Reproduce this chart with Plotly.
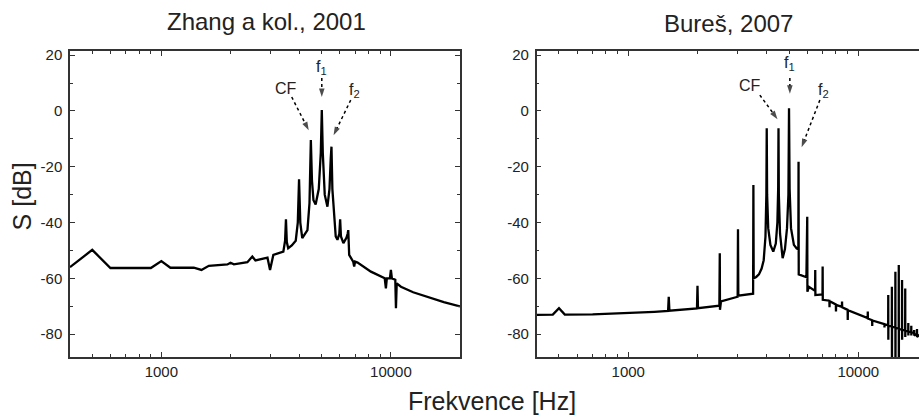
import numpy as np
import plotly.graph_objects as go

# ---------------- data ----------------
zhang_freq = [400, 500, 600, 900, 1000, 1095, 1385, 1495, 1610, 1940, 2000, 2070, 2370, 2490, 2570,
              2900, 2975, 3075, 3400, 3460, 3490, 3520, 3570, 3700, 3850, 3930, 3980, 4030, 4110,
              4330, 4420, 4480, 4530, 4600, 4700, 4850, 4950, 5000, 5050, 5150, 5290, 5400, 5470,
              5510, 5560, 5650, 5750, 5850, 5960, 6010, 6060, 6210, 6400, 6480, 6520, 6580, 6850,
              6920, 6980, 7160, 8185, 9400, 9510, 9600, 9900, 10000, 10100, 10450, 10520, 10600,
              11060, 12500, 14960, 17000, 20000]
zhang_db = [-56.0, -49.8, -56.3, -56.3, -53.8, -56.2, -56.2, -57.0, -55.5, -55.0, -54.4, -55.0, -54.2, -52.2, -53.6,
            -52.6, -57.0, -51.6, -50.4, -46.5, -38.8, -47.0, -49.2, -48.2, -46.5, -40.0, -24.5, -40.0, -45.6,
            -42.7, -33.0, -10.4, -25.0, -32.0, -33.5, -28.0, -15.0, 0.3, -15.0, -30.0, -34.3, -28.0, -17.0,
            -12.8, -28.0, -37.9, -45.0, -46.2, -44.0, -38.8, -45.0, -47.4, -45.5, -44.0, -42.7, -51.6, -54.0,
            -55.8, -54.0, -54.3, -57.6, -60.0, -63.6, -60.0, -60.0, -57.0, -60.0, -60.5, -70.7, -61.8,
            -63.0, -65.0, -67.1, -68.5, -70.1]

bures_freq = [400, 470, 500, 530, 700, 1000, 1300, 1490, 1500, 1510, 1990, 2000, 2010, 2490, 2500, 2505,
              2530, 2990, 3000, 3010, 3490, 3500, 3510, 3600, 3700, 3800, 3880, 3950, 3985, 4000,
              4015, 4060, 4150, 4270, 4380, 4450, 4485, 4500, 4515, 4570, 4690, 4800, 4900, 4970,
              5000, 5030, 5100, 5250, 5400, 5490, 5500, 5510, 5950, 6000, 6010, 6100, 6490, 6500,
              6510, 6990, 7000, 7010, 7490, 7500, 7510, 7990, 8000, 8010, 8490, 8500, 8510, 8990,
              9000, 9010, 10990, 11000, 11010, 11490, 11500, 11510, 12990, 13000, 13010, 13490,
              13500, 13510, 13520, 13990, 14000, 14010, 14020, 14490, 14500, 14510, 14520, 14990,
              15000, 15010, 15020, 15490, 15500, 15510, 15520, 15990, 16000, 16010, 16020, 16490,
              16500, 16510, 16520, 16990, 17000, 17010, 17020, 17490, 17500, 17510, 17990, 18000,
              18010, 18500, 19000]
bures_db = [-73.1, -73.0, -70.7, -73.0, -72.9, -72.5, -72.0, -71.7, -66.6, -71.6, -70.8, -62.7, -70.7, -69.8, -51.0, -71.3,
            -68.3, -66.6, -42.4, -66.2, -65.5, -26.5, -60.0, -59.5, -58.6, -56.5, -53.5, -45.0, -30.0, -6.2,
            -30.0, -42.0, -48.0, -50.4, -47.5, -40.0, -28.0, -6.2, -30.0, -44.0, -52.8, -49.5, -42.0, -30.0,
            1.0, -28.0, -42.0, -48.0, -49.3, -49.5, -18.2, -58.6, -59.6, -37.9, -64.8, -63.0, -64.5, -57.0,
            -66.0, -65.8, -55.8, -67.7, -68.0, -70.4, -68.2, -69.4, -71.9, -69.5, -70.2, -68.3, -70.4, -71.3,
            -74.9, -71.4, -74.2, -71.9, -74.4, -75.0, -77.1, -75.1, -76.4, -77.6, -76.5, -76.8,
            -66.0, -82.0, -77.0, -77.2, -63.0, -95.0, -77.4, -77.6, -57.6, -95.0, -77.8, -78.0,
            -55.2, -95.0, -78.2, -78.4, -60.6, -82.0, -78.5, -78.6, -63.6, -81.0, -78.8, -79.0,
            -76.0, -80.5, -79.1, -79.2, -77.0, -80.5, -79.4, -79.5, -78.5, -80.5, -79.8, -78.2,
            -81.0, -80.2, -80.5]

panel_titles = ["Zhang a kol., 2001", "Bureš, 2007"]
x_title = "Frekvence [Hz]"
y_title = "S [dB]"
x_major = [1000, 10000]
x_major_text = ["1000", "10000"]
x_minor = [400, 500, 600, 700, 800, 900, 2000, 3000, 4000, 5000, 6000, 7000, 8000, 9000, 20000]
y_major = [-80, -60, -40, -20, 0, 20]
y_major_text = ["-80", "-60", "-40", "-20", "0", "20"]

SUB1 = "f<sub><span style='color:#222222'>1</span></sub>"
SUB2 = "f<sub><span style='color:#222222'>2</span></sub>"
# arrow annotations: (label, label_f, label_db, tail_f, tail_db, tip_f, tip_db)
arrows_left = [("CF", 3480, 7.9, 3698, 5.0, 4446, -7.9),
               (SUB1, 5000, 15.6, 5000, 11.8, 5000, 3.9),
               (SUB2, 6928, 7.2, 6683, 3.9, 5553, -9.7)]
arrows_right = [("CF", 3380, 9.3, 3733, 5.7, 4535, -3.8),
                (SUB1, 5042, 17.0, 5042, 11.8, 5042, 5.1),
                (SUB2, 7043, 7.5, 6808, 3.9, 5610, -14.0)]

# ---------------- figure ----------------
FONT = "Liberation Sans, Arial, sans-serif"
AX = "#333333"

fig = go.Figure()
fig.add_trace(go.Scatter(x=zhang_freq, y=zhang_db, mode="lines", line=dict(color="black", width=2.3),
                         xaxis="x", yaxis="y", showlegend=False, hoverinfo="skip"))
fig.add_trace(go.Scatter(x=bures_freq, y=bures_db, mode="lines", line=dict(color="black", width=2.3),
                         xaxis="x2", yaxis="y2", showlegend=False, hoverinfo="skip"))

def xax(domain, rng, anchor):
    return dict(type="log", domain=domain, range=rng, anchor=anchor, showgrid=False, zeroline=False,
                showline=True, linecolor=AX, linewidth=1.5, mirror="ticks",
                ticks="inside", ticklen=5, tickwidth=1.2, tickcolor=AX,
                tickmode="array", tickvals=x_major, ticktext=x_major_text,
                tickfont=dict(size=15, color="#222", family=FONT),
                minor=dict(tickmode="array", tickvals=x_minor, ticks="inside", ticklen=3,
                           tickwidth=1, tickcolor=AX, showgrid=False))

def yax(anchor, mirror):
    return dict(range=[-88.2, 21.5], anchor=anchor, showgrid=False, zeroline=False,
                showline=True, linecolor=AX, linewidth=1.5, mirror=mirror,
                ticks="inside", ticklen=5, tickwidth=1.2, tickcolor=AX,
                tickmode="array", tickvals=y_major, ticktext=y_major_text, ticklabelstandoff=3,
                tickfont=dict(size=15, color="#222", family=FONT),
                minor=dict(dtick=10, tick0=0, ticks="inside", ticklen=3, tickwidth=1,
                           tickcolor=AX, showgrid=False))

L, R, T, B = 70, 0, 51, 58
W, H = 919, 415
pw = W - L - R
ph = H - T - B

fig.update_layout(
    width=W, height=H, margin=dict(l=L, r=R, t=T, b=B),
    paper_bgcolor="white", plot_bgcolor="white",
    font=dict(family=FONT, color="#222"),
    xaxis=xax([0, 390 / pw], [np.log10(400), np.log10(20000)], "y"),
    yaxis=yax("x", "ticks"),
    xaxis2=xax([466.7 / pw, 1], [np.log10(400), 4.264], "y2"),
    yaxis2=yax("x2", False),
)

def px2paper(px, py):
    return (px - L) / pw, (H - B - py) / ph

anns = []
for (t, cx, cy) in [(panel_titles[0], 266.7, 22), (panel_titles[1], 728, 23)]:
    xp, yp = px2paper(cx, cy)
    anns.append(dict(text=t, x=xp, y=yp, xref="paper", yref="paper", showarrow=False,
                     xanchor="center", yanchor="middle", font=dict(size=24, family=FONT, color="#222")))
xp, yp = px2paper(21.7, 196.7)
anns.append(dict(text=y_title, x=xp, y=yp, xref="paper", yref="paper", showarrow=False, textangle=-90,
                 xanchor="center", yanchor="middle", font=dict(size=25, family=FONT, color="#222")))
xp, yp = px2paper(491.7, 400.5)
anns.append(dict(text=x_title, x=xp, y=yp, xref="paper", yref="paper", showarrow=False,
                 xanchor="center", yanchor="middle", font=dict(size=25, family=FONT, color="#222")))

PX_DEC = 229.5
PX_DB = ph / (21.5 + 88.2)
for arrows, xr, yr in [(arrows_left, "x", "y"), (arrows_right, "x2", "y2")]:
    for (lab, lf, ldb, tf, tdb, hf, hdb) in arrows:
        anns.append(dict(text=lab, x=np.log10(lf), y=ldb, xref=xr, yref=yr, showarrow=False,
                         xanchor="center", yanchor="middle", font=dict(size=16, family=FONT, color="#222")))
        # pull the arrow-head centre slightly back from the tip
        dx = (np.log10(hf) - np.log10(tf)) * PX_DEC
        dy = (hdb - tdb) * PX_DB
        ln = np.hypot(dx, dy)
        back = 3.0
        hx = 10 ** (np.log10(hf) - dx / ln * back / PX_DEC)
        hy = hdb - dy / ln * back / PX_DB
        fig.add_trace(go.Scatter(
            x=[tf, hx], y=[tdb, hy], xaxis=xr, yaxis=yr, mode="lines+markers",
            line=dict(color="black", width=1.5, dash="dot"),
            marker=dict(symbol=["circle", "arrow"], size=[0, 9], angleref="previous", color="black",
                        line=dict(width=0)),
            showlegend=False, hoverinfo="skip", cliponaxis=False))

fig.update_layout(annotations=anns)
fig.write_html("out.html")
